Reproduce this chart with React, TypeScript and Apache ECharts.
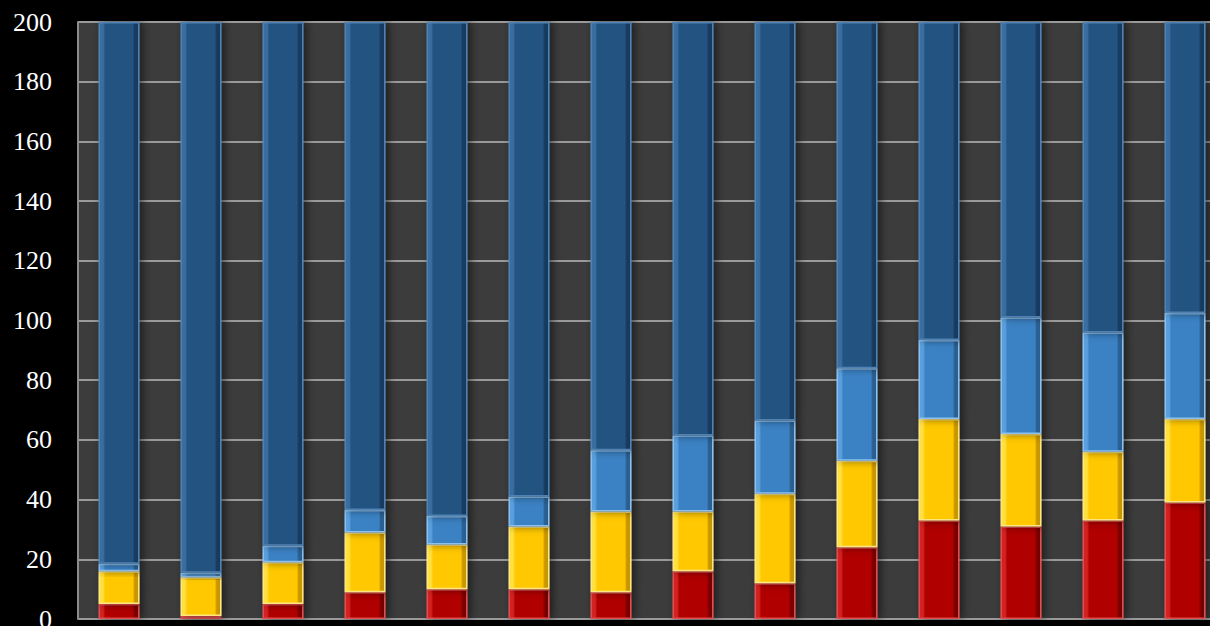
import React, { useEffect, useRef } from "react";
import * as echarts from "echarts";

const categories = ["1", "2", "3", "4", "5", "6", "7", "8", "9", "10", "11", "12", "13", "14"];
const redValues = [5, 1, 5, 9, 10, 10, 9, 16, 12, 24, 33, 31, 33, 39];
const yellowValues = [11, 13, 14, 20, 15, 21, 27, 20, 30, 29, 34, 31, 23, 28];
const lightBlueValues = [2.5, 1.5, 5.5, 7.5, 9.5, 10, 20.5, 25.5, 24.5, 31, 26.5, 39, 40, 35.5];
const totalValue = 200;
const darkBlueValues = redValues.map((r, i) => totalValue - r - yellowValues[i] - lightBlueValues[i]);
const yTicks = [0, 20, 40, 60, 80, 100, 120, 140, 160, 180, 200];

function bevel(light: string, mid: string, dark: string) {
  return {
    type: "linear",
    x: 0,
    y: 0,
    x2: 1,
    y2: 0,
    colorStops: [
      { offset: 0, color: light },
      { offset: 0.1, color: light },
      { offset: 0.15, color: mid },
      { offset: 0.85, color: mid },
      { offset: 0.9, color: dark },
      { offset: 1, color: dark },
    ],
  };
}

export default function App() {
  const ref = useRef<HTMLDivElement>(null);
  useEffect(() => {
    if (!ref.current) return;
    const chart = echarts.init(ref.current, undefined, { renderer: "svg" });
    const mk = (name: string, data: number[], light: string, mid: string, dark: string, edge: string) => ({
      name,
      type: "bar",
      stack: "total",
      data,
      barWidth: "50%",
      itemStyle: {
        color: bevel(light, mid, dark),
        borderColor: edge,
        borderWidth: 1.5,
        shadowColor: "rgba(0,0,0,0.55)",
        shadowBlur: 8,
        shadowOffsetX: 3,
      },
    });
    chart.setOption({
      animation: false,
      backgroundColor: "#000000",
      grid: {
        left: 78,
        top: 22,
        width: 1148,
        height: 597,
        show: true,
        backgroundColor: "#3c3c3c",
        borderWidth: 0,
        containLabel: false,
        outerBoundsMode: "none",
      },
      xAxis: {
        type: "category",
        data: categories,
        axisLine: { show: false },
        axisTick: { show: false },
        axisLabel: { show: false },
      },
      yAxis: {
        type: "value",
        min: yTicks[0],
        max: yTicks[yTicks.length - 1],
        interval: 20,
        axisLine: { show: true, lineStyle: { color: "#8c8c8c", width: 2 } },
        axisTick: { show: false },
        splitLine: { show: true, lineStyle: { color: "#9a9a9a", width: 2 } },
        axisLabel: {
          color: "#ffffff",
          fontFamily: "Liberation Serif",
          fontSize: 26,
          margin: 26,
        },
      },
      series: [
        mk("red", redValues, "#d42222", "#b00000", "#7a0000", "#e05050"),
        mk("yellow", yellowValues, "#ffe040", "#ffc800", "#c89600", "#ffe680"),
        mk("lightblue", lightBlueValues, "#5aa0de", "#3b82c4", "#2a5f90", "#8cc0ee"),
        mk("darkblue", darkBlueValues, "#3a6ea0", "#245281", "#173a5e", "#4f82b4"),
      ],
    });
    return () => chart.dispose();
  }, []);
  return (
    <div
      ref={ref}
      style={{ position: "absolute", left: 0, top: 0, width: 1210, height: 626, overflow: "hidden" }}
    />
  );
}
